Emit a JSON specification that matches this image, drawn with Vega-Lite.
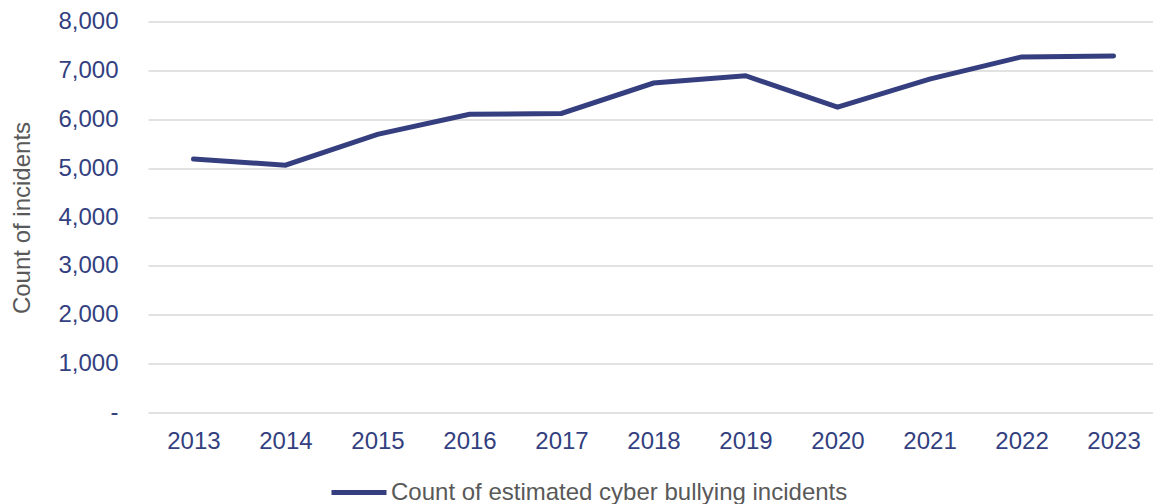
{
  "$schema": "https://vega.github.io/schema/vega-lite/v6.json",
  "autosize": {"type": "none"},
  "padding": {"left": 148, "top": 21.5, "right": -6, "bottom": 91.5},
  "width": 1011,
  "height": 391,
  "background": "white",
  "config": {
    "view": {"stroke": null},
    "font": "Liberation Sans"
  },
  "data": {
    "values": [
      {"year": "2013", "series": "Count of estimated cyber bullying incidents", "count": 5185},
      {"year": "2014", "series": "Count of estimated cyber bullying incidents", "count": 5060},
      {"year": "2015", "series": "Count of estimated cyber bullying incidents", "count": 5690},
      {"year": "2016", "series": "Count of estimated cyber bullying incidents", "count": 6100},
      {"year": "2017", "series": "Count of estimated cyber bullying incidents", "count": 6120},
      {"year": "2018", "series": "Count of estimated cyber bullying incidents", "count": 6740},
      {"year": "2019", "series": "Count of estimated cyber bullying incidents", "count": 6890},
      {"year": "2020", "series": "Count of estimated cyber bullying incidents", "count": 6250},
      {"year": "2021", "series": "Count of estimated cyber bullying incidents", "count": 6820},
      {"year": "2022", "series": "Count of estimated cyber bullying incidents", "count": 7275},
      {"year": "2023", "series": "Count of estimated cyber bullying incidents", "count": 7295}
    ]
  },
  "mark": {"type": "line", "strokeWidth": 5, "strokeCap": "round", "strokeJoin": "miter"},
  "encoding": {
    "x": {
      "field": "year",
      "type": "ordinal",
      "scale": {"type": "point", "padding": 0.494},
      "axis": {
        "title": null,
        "labelAngle": 0,
        "labelFontSize": 24,
        "labelColor": "#333f7f",
        "labelPadding": 17,
        "domain": false,
        "ticks": false,
        "grid": false
      }
    },
    "y": {
      "field": "count",
      "type": "quantitative",
      "scale": {"domain": [0, 8000], "nice": false},
      "axis": {
        "values": [0, 1000, 2000, 3000, 4000, 5000, 6000, 7000, 8000],
        "labelExpr": "datum.value == 0 ? '-\u00a0\u00a0' : format(datum.value, ',')",
        "labelFontSize": 24,
        "labelColor": "#333f7f",
        "labelPadding": 30,
        "domain": false,
        "ticks": false,
        "grid": true,
        "gridColor": "#d9d9d9",
        "gridWidth": 1.5,
        "title": "Count of incidents",
        "titleFontSize": 24,
        "titleFontWeight": "normal",
        "titleColor": "#595959",
        "titleAngle": -90,
        "titleBaseline": "middle",
        "titleX": -126,
        "titleY": 196
      }
    },
    "color": {
      "field": "series",
      "type": "nominal",
      "scale": {"range": ["#353f7f"]},
      "legend": {
        "title": null,
        "orient": "none",
        "legendX": 181,
        "legendY": 441,
        "symbolType": "stroke",
        "symbolSize": 3025,
        "symbolStrokeWidth": 5,
        "symbolStrokeColor": "#353f7f",
        "labelFontSize": 24,
        "labelLimit": 1000,
        "labelColor": "#595959",
        "labelOffset": 2,
        "padding": 0
      }
    }
  }
}
